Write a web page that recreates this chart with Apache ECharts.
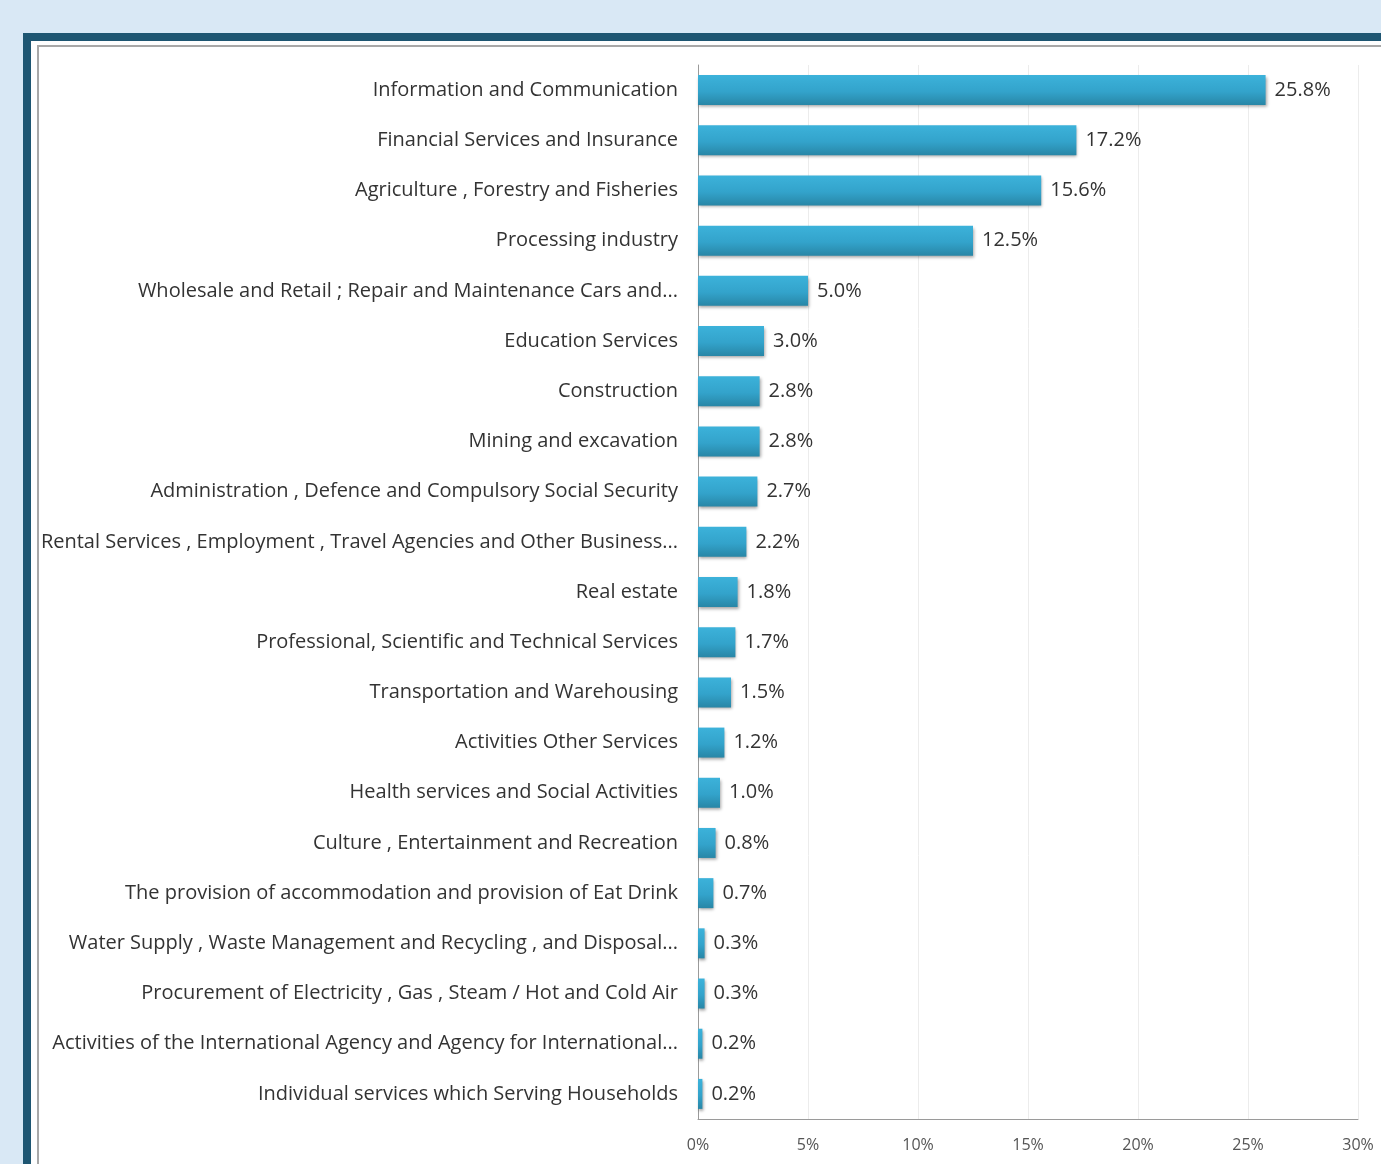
<!DOCTYPE html>
<html>
<head>
<meta charset="utf-8">
<script src="https://cdn.jsdelivr.net/npm/echarts@6/dist/echarts.min.js"></script>
<style>
html,body{margin:0;padding:0;width:1381px;height:1164px;overflow:hidden;background:#d9e8f5;}
#frame{position:absolute;left:23px;top:33px;width:1400px;height:1200px;background:#1e5672;}
#inner{position:absolute;left:31px;top:41px;width:1400px;height:1200px;background:#ffffff;}
#line{position:absolute;left:37px;top:45px;width:1400px;height:1200px;border-left:2px solid #a8a8a8;border-top:2px solid #a8a8a8;box-sizing:border-box;}
#chart{position:absolute;left:0;top:0;width:1381px;height:1164px;}
</style>
</head>
<body>
<div id="frame"></div>
<div id="inner"></div>
<div id="line"></div>
<div id="chart"></div>
<script>
var categories = [
  "Information and Communication",
  "Financial Services and Insurance",
  "Agriculture , Forestry and Fisheries",
  "Processing industry",
  "Wholesale and Retail ; Repair and Maintenance Cars and...",
  "Education Services",
  "Construction",
  "Mining and excavation",
  "Administration , Defence and Compulsory Social Security",
  "Rental Services , Employment , Travel Agencies and Other Business...",
  "Real estate",
  "Professional, Scientific and Technical Services",
  "Transportation and Warehousing",
  "Activities Other Services",
  "Health services and Social Activities",
  "Culture , Entertainment and Recreation",
  "The provision of accommodation and provision of Eat Drink",
  "Water Supply , Waste Management and Recycling , and Disposal...",
  "Procurement of Electricity , Gas , Steam / Hot and Cold Air",
  "Activities of the International Agency and Agency for International...",
  "Individual services which Serving Households"
];
var shares = [25.8, 17.2, 15.6, 12.5, 5.0, 3.0, 2.8, 2.8, 2.7, 2.2, 1.8, 1.7, 1.5, 1.2, 1.0, 0.8, 0.7, 0.3, 0.3, 0.2, 0.2];
var xTicks = [0, 5, 10, 15, 20, 25, 30];

var chart = echarts.init(document.getElementById('chart'), null, {renderer:'canvas'});
chart.setOption({
  backgroundColor: 'transparent',
  animation: false,
  grid: {left: 698, right: 23, top: 65, bottom: 45, containLabel: false},
  xAxis: {
    type: 'value', min: xTicks[0], max: xTicks[xTicks.length-1], interval: 5,
    axisLine: {show: true, lineStyle: {color: '#9a9a9a', width: 1}},
    axisTick: {show: false},
    splitLine: {show: true, lineStyle: {color: '#ececec', width: 1}},
    axisLabel: {formatter: '{value}%', color: '#555', fontSize: 16, fontFamily: 'Liberation Sans Narrow, Open Sans, sans-serif', margin: 18}
  },
  yAxis: {
    type: 'category', data: categories, inverse: true,
    axisLine: {show: true, lineStyle: {color: '#9a9a9a', width: 1}},
    axisTick: {show: false},
    axisLabel: {color: '#333', fontSize: 20, fontFamily: 'Open Sans, sans-serif', margin: 20}
  },
  series: [{
    type: 'bar', data: shares, barWidth: 30,
    itemStyle: {
      color: new echarts.graphic.LinearGradient(0, 0, 0, 1, [
        {offset: 0, color: '#3cb2da'},
        {offset: 0.55, color: '#33a3cb'},
        {offset: 1, color: '#2886a6'}
      ]),
      shadowColor: 'rgba(0,0,0,0.35)', shadowBlur: 3, shadowOffsetY: 2, shadowOffsetX: 1
    },
    label: {
      show: true, position: 'right', distance: 9, color: '#333', fontSize: 20,
      fontFamily: 'Open Sans, sans-serif',
      formatter: function(p){ return p.value.toFixed(1) + '%'; }
    }
  }]
});
</script>
</body>
</html>
